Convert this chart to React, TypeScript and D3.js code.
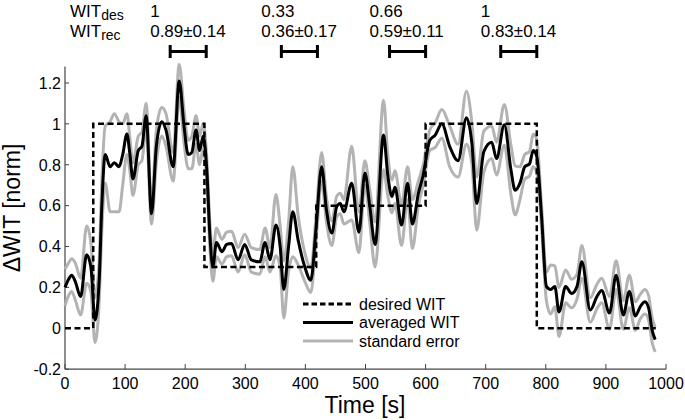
import React from "react";
import * as d3 from "d3";

// averaged WIT (time in s, normalized value) and standard error half-width
const TIME = [0, 6, 11, 17, 26, 36, 43, 50, 57, 61, 67, 75, 82, 90, 96, 103, 108, 113, 122, 128, 135, 144, 152, 161, 168, 180, 190, 198, 205, 211, 218, 224, 230, 236, 241, 246, 252, 261, 269, 277, 288, 299, 310, 324, 333, 341, 351, 358, 364, 372, 379, 388, 399, 409, 418, 427, 435, 444, 452, 458, 464, 477, 489, 499, 507, 516, 530, 537, 544, 549, 560, 570, 578, 588, 596, 607, 616, 627, 640, 654, 668, 677, 685, 697, 710, 718, 731, 742, 749, 757, 765, 773, 779, 785, 793, 801, 808, 815, 822, 833, 843, 852, 860, 874, 885, 893, 906, 917, 929, 939, 949, 957, 965, 971, 977, 982];
const MEAN = [0.2, 0.24, 0.26, 0.23, 0.155, 0.36, 0.3, 0.04, 0.24, 0.58, 0.85, 0.79, 0.81, 0.79, 0.85, 0.95, 0.85, 0.73, 0.87, 0.89, 1.04, 0.56, 0.89, 1.01, 0.97, 0.79, 1.21, 0.99, 0.85, 0.86, 0.97, 0.87, 0.94, 0.77, 0.46, 0.3, 0.42, 0.375, 0.41, 0.415, 0.335, 0.41, 0.335, 0.325, 0.42, 0.335, 0.505, 0.4, 0.19, 0.4, 0.57, 0.43, 0.3, 0.235, 0.5, 0.79, 0.58, 0.465, 0.595, 0.61, 0.57, 0.71, 0.47, 0.76, 0.6, 0.41, 0.945, 0.75, 0.645, 0.69, 0.505, 0.71, 0.51, 0.66, 0.75, 0.92, 0.945, 1.0, 0.89, 0.82, 1.03, 0.905, 0.61, 0.865, 0.91, 0.83, 0.995, 0.775, 0.675, 0.71, 0.79, 0.805, 0.87, 0.84, 0.545, 0.205, 0.19, 0.205, 0.08, 0.205, 0.17, 0.205, 0.325, 0.09, 0.155, 0.185, 0.075, 0.26, 0.065, 0.18, 0.06, 0.105, 0.13, 0.1, -0.01, -0.055];
const SE = [0.09, 0.08, 0.08, 0.09, 0.09, 0.14, 0.12, 0.11, 0.1, 0.12, 0.14, 0.22, 0.24, 0.22, 0.15, 0.1, 0.08, 0.08, 0.07, 0.07, 0.06, 0.05, 0.08, 0.07, 0.08, 0.07, 0.08, 0.08, 0.07, 0.08, 0.07, 0.07, 0.06, 0.06, 0.06, 0.07, 0.07, 0.06, 0.06, 0.06, 0.06, 0.05, 0.06, 0.06, 0.07, 0.06, 0.15, 0.1, 0.14, 0.12, 0.22, 0.12, 0.07, 0.06, 0.06, 0.07, 0.06, 0.06, 0.05, 0.05, 0.06, 0.18, 0.1, 0.06, 0.08, 0.11, 0.17, 0.1, 0.08, 0.08, 0.1, 0.08, 0.12, 0.06, 0.05, 0.05, 0.06, 0.07, 0.1, 0.08, 0.13, 0.1, 0.13, 0.1, 0.08, 0.08, 0.1, 0.12, 0.12, 0.08, 0.06, 0.06, 0.08, 0.08, 0.05, 0.07, 0.12, 0.1, 0.12, 0.08, 0.07, 0.06, 0.08, 0.06, 0.06, 0.06, 0.08, 0.07, 0.07, 0.08, 0.07, 0.06, 0.06, 0.06, 0.06, 0.06];

// desired WIT steps
const STEP_START = [0, 47, 232, 418, 600, 785];
const STEP_END = [47, 232, 418, 600, 785, 983];
const STEP_LEVEL = [0, 1, 0.3, 0.6, 1, 0];

// top annotations
const DES_LABELS = ["1", "0.33", "0.66", "1"];
const REC_LABELS = ["0.89\u00b10.14", "0.36\u00b10.17", "0.59\u00b10.11", "0.83\u00b10.14"];
const WIN_START = [175, 360, 540, 725];
const WIN_END = [235, 420, 600, 785];

const X_TICKS = [0, 100, 200, 300, 400, 500, 600, 700, 800, 900, 1000];
const Y_TICKS = [-0.2, 0, 0.2, 0.4, 0.6, 0.8, 1, 1.2];

const LEGEND = ["desired WIT", "averaged WIT", "standard error"];

const FONT = "'Liberation Sans', Arial, Helvetica, sans-serif";

export default function App() {
  const x = d3.scaleLinear().domain([0, 1000]).range([65, 666]);
  const y = d3.scaleLinear().domain([-0.2, 1.28]).range([369.2, 66.6]);

  const pts = TIME.map((t, i) => ({ t, m: MEAN[i], s: SE[i] }));
  const curve = d3.curveMonotoneX;
  const lineMean = d3.line<any>().x(d => x(d.t)).y(d => y(d.m)).curve(curve);
  const lineUp = d3.line<any>().x(d => x(d.t)).y(d => y(d.m + d.s)).curve(curve);
  const lineLo = d3.line<any>().x(d => x(d.t)).y(d => y(d.m - d.s)).curve(curve);

  const stepPts: [number, number][] = [];
  STEP_START.forEach((s, i) => {
    stepPts.push([s, STEP_LEVEL[i]]);
    stepPts.push([STEP_END[i], STEP_LEVEL[i]]);
  });
  const stepLine = d3.line<[number, number]>().x(d => x(d[0])).y(d => y(d[1]));

  const gray = "#b3b3b3";
  const axisCol = "#444";
  const fmt = (v: number) => String(+v.toFixed(1));

  return (
    <svg width={685} height={420} style={{ position: "absolute", left: 0, top: 0, background: "#fff" }} fontFamily={FONT}>
      {/* top annotations */}
      <text x={70} y={17} fontSize={17}>WIT<tspan fontSize={14} dy={3}>des</tspan></text>
      <text x={70} y={37} fontSize={17}>WIT<tspan fontSize={14} dy={3}>rec</tspan></text>
      {DES_LABELS.map((l, i) => (
        <text key={"d" + i} x={x(WIN_START[i]) - 20} y={17} fontSize={17}>{l}</text>
      ))}
      {REC_LABELS.map((l, i) => (
        <text key={"r" + i} x={x(WIN_START[i]) - 20} y={37} fontSize={17}>{l}</text>
      ))}
      {WIN_START.map((s, i) => (
        <g key={"w" + i} stroke="#000" strokeWidth={3}>
          <line x1={x(s)} x2={x(WIN_END[i])} y1={51.5} y2={51.5} />
          <line x1={x(s)} x2={x(s)} y1={45} y2={58} />
          <line x1={x(WIN_END[i])} x2={x(WIN_END[i])} y1={45} y2={58} />
        </g>
      ))}

      {/* axes */}
      <line x1={65} x2={65} y1={66.6} y2={369.2} stroke={axisCol} strokeWidth={1.2} />
      <line x1={65} x2={666} y1={369.2} y2={369.2} stroke={axisCol} strokeWidth={1.2} />
      {X_TICKS.map(t => (
        <g key={"xt" + t}>
          <line x1={x(t)} x2={x(t)} y1={369.2} y2={364} stroke={axisCol} strokeWidth={1} />
          <text x={x(t)} y={388.5} fontSize={16} textAnchor="middle">{t}</text>
        </g>
      ))}
      {Y_TICKS.map(v => (
        <g key={"yt" + v}>
          <line x1={65} x2={69} y1={y(v)} y2={y(v)} stroke={axisCol} strokeWidth={1} />
          <text x={61} y={y(v) + 5.8} fontSize={16} textAnchor="end">{fmt(v)}</text>
        </g>
      ))}
      <text x={365} y={413} fontSize={23} textAnchor="middle">Time [s]</text>
      <text transform={`translate(20,208) rotate(-90)`} fontSize={23} textAnchor="middle">{"\u0394WIT [norm]"}</text>

      {/* data */}
      <path d={lineUp(pts) || ""} fill="none" stroke={gray} strokeWidth={3} />
      <path d={lineLo(pts) || ""} fill="none" stroke={gray} strokeWidth={3} />
      <path d={stepLine(stepPts) || ""} fill="none" stroke="#000" strokeWidth={2.5} strokeDasharray="6,3.5" />
      <path d={lineMean(pts) || ""} fill="none" stroke="#000" strokeWidth={3} strokeLinejoin="round" />

      {/* legend */}
      {LEGEND.map((l, i) => {
        const yy = 304 + i * 18.5;
        return (
          <g key={"lg" + i}>
            <line x1={303} x2={353} y1={yy} y2={yy}
              stroke={i === 2 ? gray : "#000"} strokeWidth={3}
              strokeDasharray={i === 0 ? "5.5,3" : undefined} />
            <text x={359} y={yy + 5.5} fontSize={16}>{l}</text>
          </g>
        );
      })}
    </svg>
  );
}
